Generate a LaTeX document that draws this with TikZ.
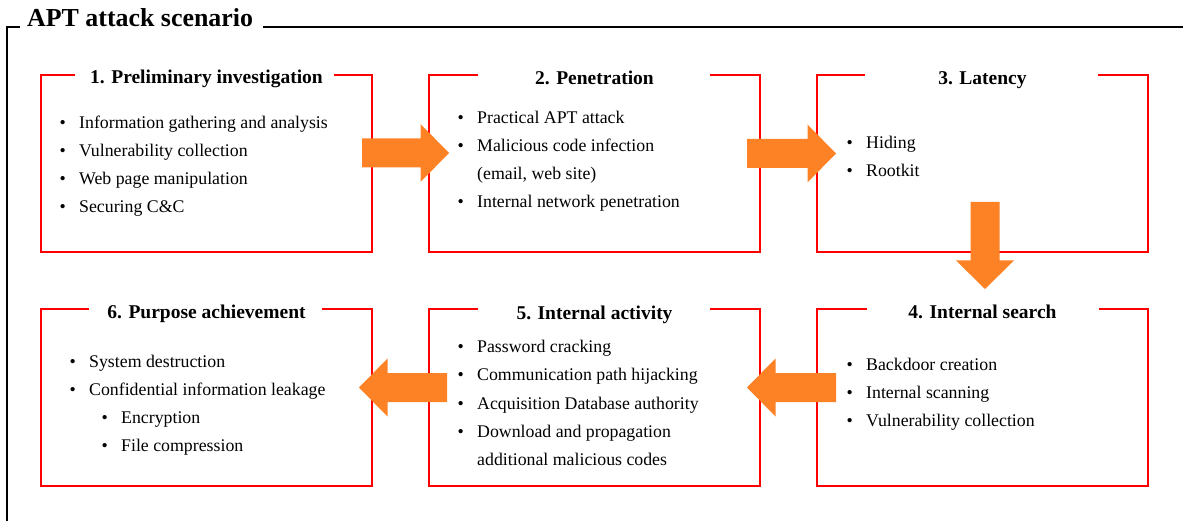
\documentclass[tikz,border=0pt]{standalone}
\usepackage{fontspec}
\setmainfont{Liberation Serif}
\usetikzlibrary{calc}
\definecolor{stagered}{RGB}{255,0,0}
\definecolor{flowfill}{RGB}{253,130,38}

% red frame of a stage, open at the top where the title sits
\newcommand\stageframe[3]{%
  \draw[stageline] ($(#1.north)+(-#2,0)$) -| (#1.south west) -| (#1.north east)
    -- ($(#1.north)+(#3,0)$);}
% one bulleted line: name, x of the text, baseline, text
\newcommand\stageitem[4]{%
  \node[itemtext] (#1) at (#2-19.5,#3) {\makebox[19.5pt][l]{\textbullet}#4};}
% continuation line without bullet
\newcommand\stagecont[4]{%
  \node[itemtext] (#1) at (#2,#3) {#4};}
% broad orange arrow from tail coordinate #1 to tip coordinate #2
\newcommand\fatflow[2]{%
  \coordinate (#1h) at ($(#2)!28.5pt!(#1)$);
  \fill[flow] ($(#1)!14.5pt!90:(#2)$) -- ($(#1h)!14.5pt!90:(#2)$)
    -- ($(#1h)!29pt!90:(#2)$) -- (#2) -- ($(#1h)!29pt!-90:(#2)$)
    -- ($(#1h)!14.5pt!-90:(#2)$) -- ($(#1)!14.5pt!-90:(#2)$) -- cycle;}

\begin{document}
\begin{tikzpicture}[x=1pt,y=-1pt,
  stagebox/.style={minimum width=331pt,minimum height=177pt,inner sep=0pt,outer sep=0pt},
  stageline/.style={draw=stagered,line width=2pt},
  stagetitle/.style={font=\fontsize{19.5}{22}\bfseries,anchor=base,inner sep=0pt},
  itemtext/.style={font=\fontsize{17.8}{20}\selectfont,anchor=base west,inner sep=0pt},
  flow/.style={fill=flowfill},
  frameline/.style={draw=black,line width=2pt}]
\useasboundingbox (0,0) rectangle (1183,521);

% outer frame with its heading
\node[font=\fontsize{25.9}{30}\bfseries,anchor=base west,inner sep=0pt] (scen) at (27,27) {APT attack scenario};
\draw[frameline] ($(scen.base west)+(-7,0)$) -- (7,27) -- (7,530);
\draw[frameline] ($(scen.base east)+(10,0)$) -- (1190,27);

% stage areas
\node[stagebox] (b1) at (206.5,163.5) {};
\node[stagebox] (b2) at (594.5,163.5) {};
\node[stagebox] (b3) at (982.5,163.5) {};
\node[stagebox] (b4) at (982.5,397.5) {};
\node[stagebox] (b5) at (594.5,397.5) {};
\node[stagebox] (b6) at (206.5,397.5) {};

\stageframe{b1}{131.5}{127.5}
\stageframe{b2}{116.5}{115.5}
\stageframe{b3}{117.5}{115.5}
\stageframe{b4}{116}{116.5}
\stageframe{b5}{116.5}{115.5}
\stageframe{b6}{117.5}{115.5}

% titles
\node[stagetitle] (t1) at ($(b1.north)+(0,8.5)$) {1. Preliminary investigation};
\node[stagetitle] (t2) at ($(b2.north)+(0,9.5)$) {2. Penetration};
\node[stagetitle] (t3) at ($(b3.north)+(0,10)$) {3. Latency};
\node[stagetitle] (t4) at ($(b4.north)+(0,10)$) {4. Internal search};
\node[stagetitle] (t5) at ($(b5.north)+(0,10.5)$) {5. Internal activity};
\node[stagetitle] (t6) at ($(b6.north)+(0,10)$) {6. Purpose achievement};

% stage 1
\stageitem{i11}{79}{128.5}{Information gathering and analysis}
\stageitem{i12}{79}{156.6}{Vulnerability collection}
\stageitem{i13}{79}{184.6}{Web page manipulation}
\stageitem{i14}{79}{212.7}{Securing C\&C}
% stage 2
\stageitem{i21}{477}{123.3}{Practical APT attack}
\stageitem{i22}{477}{151.5}{Malicious code infection}
\stagecont{i23}{477}{179.5}{(email, web site)}
\stageitem{i24}{477}{207.5}{Internal network penetration}
% stage 3
\stageitem{i31}{866}{148.3}{Hiding}
\stageitem{i32}{866}{176.3}{Rootkit}
% stage 4
\stageitem{i41}{866}{370}{Backdoor creation}
\stageitem{i42}{866}{398.3}{Internal scanning}
\stageitem{i43}{866}{426.5}{Vulnerability collection}
% stage 5
\stageitem{i51}{477}{352.7}{Password cracking}
\stageitem{i52}{477}{380.8}{Communication path hijacking}
\stageitem{i53}{477}{409}{Acquisition Database authority}
\stageitem{i54}{477}{437.2}{Download and propagation}
\stagecont{i55}{477}{465.3}{additional malicious codes}
% stage 6
\stageitem{i61}{89}{367.3}{System destruction}
\stageitem{i62}{89}{395.5}{Confidential information leakage}
\stageitem{i63}{121}{423.6}{Encryption}
\stageitem{i64}{121}{451.8}{File compression}

% flow between the stages
\coordinate (f1) at ($(b1.east)+(-10,-10.5)$);
\coordinate (f1e) at ($(b2.west)+(20,-10.5)$);
\coordinate (f2) at ($(b2.east)+(-13,-10)$);
\coordinate (f2e) at ($(b3.west)+(19,-10)$);
\coordinate (f3) at ($(b3.south)+(2.5,-50)$);
\coordinate (f3e) at ($(b4.north)+(2.5,-20)$);
\coordinate (f4) at ($(b4.west)+(19,-10)$);
\coordinate (f4e) at ($(b5.east)+(-13,-10)$);
\coordinate (f5) at ($(b5.west)+(18,-10)$);
\coordinate (f5e) at ($(b6.east)+(-13,-10)$);
\fatflow{f1}{f1e}
\fatflow{f2}{f2e}
\fatflow{f3}{f3e}
\fatflow{f4}{f4e}
\fatflow{f5}{f5e}
\end{tikzpicture}
\end{document}
